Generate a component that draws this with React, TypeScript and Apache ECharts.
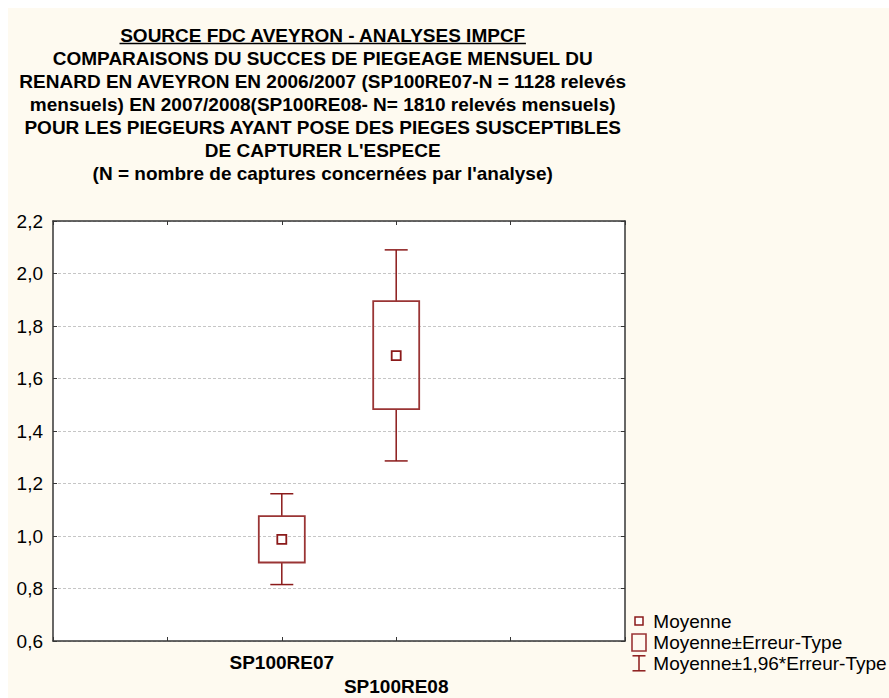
import React, { useEffect, useRef } from 'react';
import * as echarts from 'echarts';

const categories = ['SP100RE07', 'SP100RE08'];
const means = [0.987, 1.687];
const seLow = [0.899, 1.483];
const seHigh = [1.076, 1.895];
const ciLow = [0.815, 1.286];
const ciHigh = [1.161, 2.09];
const yMin = 0.6;
const yMax = 2.2;
const yStep = 0.2;
const titleLines = [
  'SOURCE FDC AVEYRON - ANALYSES IMPCF',
  'COMPARAISONS DU SUCCES DE PIEGEAGE MENSUEL DU',
  'RENARD EN AVEYRON EN 2006/2007 (SP100RE07-N = 1128 relevés',
  'mensuels) EN 2007/2008(SP100RE08- N= 1810 relevés mensuels)',
  'POUR LES PIEGEURS AYANT POSE DES PIEGES SUSCEPTIBLES',
  "DE CAPTURER L'ESPECE",
  "(N = nombre de captures concernées par l'analyse)",
];
const legendLabels = ['Moyenne', 'Moyenne±Erreur-Type', 'Moyenne±1,96*Erreur-Type'];

const FONT = '"Liberation Sans", Arial, sans-serif';
const RED = '#8B1A1A';
const BOX_RED = '#9A3535';

function measure(text: string, font: string): number {
  const c = document.createElement('canvas').getContext('2d');
  if (!c) return text.length * 10;
  c.font = font;
  return c.measureText(text).width;
}

export default function App() {
  const ref = useRef<HTMLDivElement>(null);
  useEffect(() => {
    if (!ref.current) return;
    const chart = echarts.init(ref.current, undefined, { renderer: 'svg' });
    const padded = ['', ' ', ...categories, '  ', '   '];
    const data = categories.map((c, i) => [c, means[i], seLow[i], seHigh[i], ciLow[i], ciHigh[i]]);

    const titleX = 314.7;
    const titleY0 = 27;
    const titleStep = 23;
    const underlineW = measure(titleLines[0], `bold 19px ${FONT}`);

    const graphics: any[] = [];
    titleLines.forEach((t, i) => {
      graphics.push({
        type: 'text',
        x: titleX,
        y: titleY0 + i * titleStep,
        style: {
          text: t,
          fill: '#000',
          font: `bold 19px ${FONT}`,
          textAlign: 'center',
          textVerticalAlign: 'middle',
        },
      });
    });
    graphics.push({
      type: 'line',
      shape: { x1: titleX - underlineW / 2, y1: titleY0 + 8.5, x2: titleX + underlineW / 2, y2: titleY0 + 8.5 },
      style: { stroke: '#000', lineWidth: 1.5 },
    });

    // legend
    const lx = 631;
    const rows = [613, 634.5, 655.3];
    graphics.push({
      type: 'rect',
      shape: { x: lx - 4, y: rows[0] - 4, width: 8, height: 8 },
      style: { fill: '#fff', stroke: RED, lineWidth: 1.5 },
    });
    graphics.push({
      type: 'rect',
      shape: { x: lx - 7, y: rows[1] - 8.5, width: 14, height: 17 },
      style: { fill: 'none', stroke: BOX_RED, lineWidth: 1.6 },
    });
    graphics.push({
      type: 'line',
      shape: { x1: lx, y1: rows[2] - 7.5, x2: lx, y2: rows[2] + 7.5 },
      style: { stroke: RED, lineWidth: 1.5 },
    });
    graphics.push({
      type: 'line',
      shape: { x1: lx - 6.5, y1: rows[2] - 7.5, x2: lx + 6.5, y2: rows[2] - 7.5 },
      style: { stroke: RED, lineWidth: 1.5 },
    });
    graphics.push({
      type: 'line',
      shape: { x1: lx - 6.5, y1: rows[2] + 7.5, x2: lx + 6.5, y2: rows[2] + 7.5 },
      style: { stroke: RED, lineWidth: 1.5 },
    });
    legendLabels.forEach((t, i) => {
      graphics.push({
        type: 'text',
        x: 645.3,
        y: rows[i],
        style: {
          text: t,
          fill: '#000',
          font: `19px ${FONT}`,
          textAlign: 'left',
          textVerticalAlign: 'middle',
        },
      });
    });

    const axisLine = { show: true, lineStyle: { color: '#363636', width: 1.5 } };
    const tick = { show: true, inside: true, length: 4, lineStyle: { color: '#363636', width: 1 } };

    chart.setOption({
      animation: false,
      backgroundColor: 'transparent',
      grid: {
        left: 45,
        top: 213,
        width: 572,
        height: 423,
        show: true,
        backgroundColor: '#ffffff',
        borderWidth: 0,
      },
      xAxis: [
        {
          type: 'category',
          data: padded,
          boundaryGap: false,
          position: 'bottom',
          axisLine,
          axisTick: { ...tick, interval: 0 },
          axisLabel: {
            interval: 0,
            margin: 9,
            color: '#000',
            fontFamily: FONT,
            fontSize: 19,
            fontWeight: 'bold',
            lineHeight: 24,
            formatter: (v: string, idx: number) => (idx === 3 ? '\n' + v : v),
          },
          splitLine: { show: false },
        },
        {
          type: 'category',
          data: padded,
          boundaryGap: false,
          position: 'top',
          axisLine,
          axisTick: { ...tick, interval: 0 },
          axisLabel: { show: false },
          splitLine: { show: false },
        },
      ],
      yAxis: [
        {
          type: 'value',
          min: yMin,
          max: yMax,
          interval: yStep,
          position: 'left',
          axisLine,
          axisTick: tick,
          axisLabel: {
            margin: 10,
            color: '#000',
            fontFamily: FONT,
            fontSize: 19,
            formatter: (v: number) => v.toFixed(1).replace('.', ','),
          },
          splitLine: { show: true, lineStyle: { color: '#c6c6c6', type: [3, 2], width: 1 } },
        },
        {
          type: 'value',
          min: yMin,
          max: yMax,
          interval: yStep,
          position: 'right',
          axisLine,
          axisTick: tick,
          axisLabel: { show: false },
          splitLine: { show: false },
        },
      ],
      series: [
        {
          type: 'custom',
          xAxisIndex: 0,
          yAxisIndex: 0,
          encode: { x: 0, y: [1, 2, 3, 4, 5] },
          data,
          renderItem: (params: any, api: any) => {
            const x = api.value(0);
            const pm = api.coord([x, api.value(1)]);
            const pSl = api.coord([x, api.value(2)]);
            const pSh = api.coord([x, api.value(3)]);
            const pCl = api.coord([x, api.value(4)]);
            const pCh = api.coord([x, api.value(5)]);
            const cx = pm[0];
            const boxW = 46;
            const capW = 23;
            const m = 9;
            const ws = { stroke: RED, lineWidth: 1.5 };
            return {
              type: 'group',
              children: [
                { type: 'line', shape: { x1: cx, y1: pCh[1], x2: cx, y2: pSh[1] }, style: ws },
                { type: 'line', shape: { x1: cx, y1: pSl[1], x2: cx, y2: pCl[1] }, style: ws },
                { type: 'line', shape: { x1: cx - capW / 2, y1: pCh[1], x2: cx + capW / 2, y2: pCh[1] }, style: ws },
                { type: 'line', shape: { x1: cx - capW / 2, y1: pCl[1], x2: cx + capW / 2, y2: pCl[1] }, style: ws },
                {
                  type: 'rect',
                  shape: { x: cx - boxW / 2, y: pSh[1], width: boxW, height: pSl[1] - pSh[1] },
                  style: { fill: 'none', stroke: BOX_RED, lineWidth: 1.8 },
                },
                {
                  type: 'rect',
                  shape: { x: cx - m / 2, y: pm[1] - m / 2, width: m, height: m },
                  style: { fill: '#fff', stroke: RED, lineWidth: 1.8 },
                },
              ],
            };
          },
        },
      ],
      graphic: graphics,
    });
    return () => chart.dispose();
  }, []);

  return (
    <div
      ref={ref}
      style={{
        position: 'fixed',
        left: 8,
        top: 8,
        width: 881,
        height: 690,
        background: '#FEFAF0',
      }}
    />
  );
}
